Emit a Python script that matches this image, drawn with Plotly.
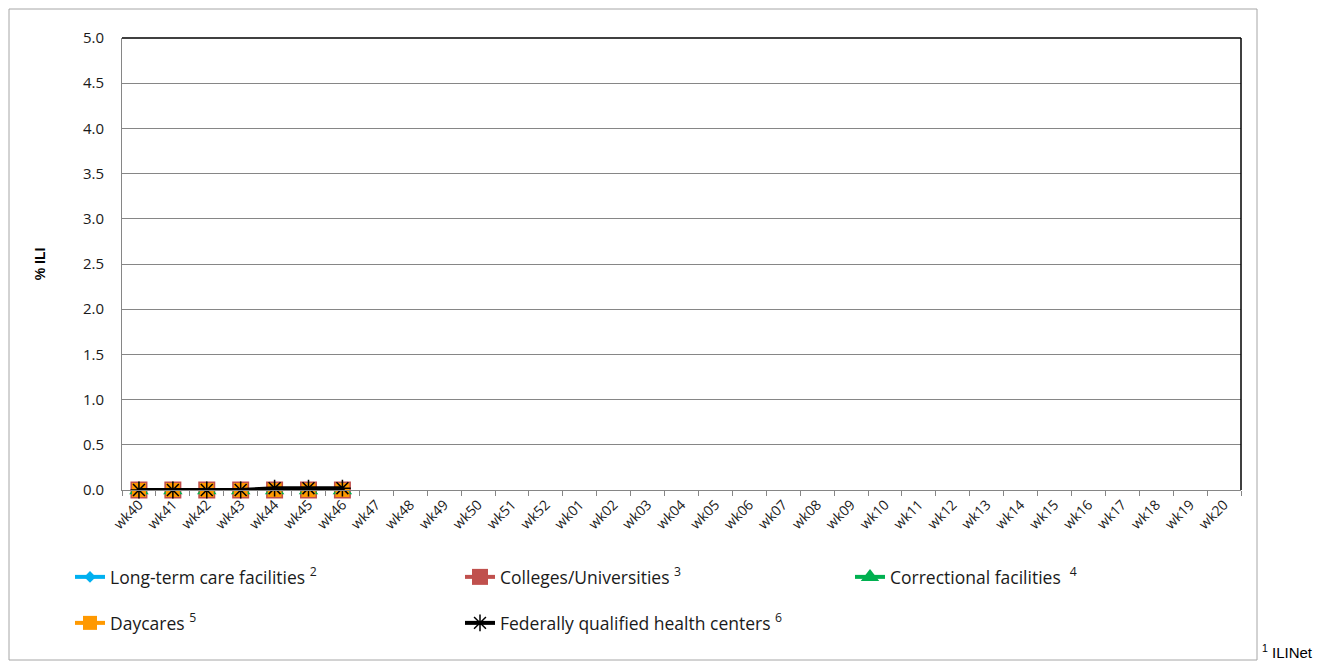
import plotly.graph_objects as go

weeks = ["wk40", "wk41", "wk42", "wk43", "wk44", "wk45", "wk46", "wk47", "wk48", "wk49",
         "wk50", "wk51", "wk52", "wk01", "wk02", "wk03", "wk04", "wk05", "wk06", "wk07",
         "wk08", "wk09", "wk10", "wk11", "wk12", "wk13", "wk14", "wk15", "wk16", "wk17",
         "wk18", "wk19", "wk20"]

ltc = [0.0, 0.0, 0.0, 0.0, 0.0, 0.0, 0.0]
colleges = [0.0, 0.0, 0.0, 0.0, 0.0, 0.0, 0.0]
correctional = [0.0, 0.0, 0.0, 0.0, 0.0, 0.0, 0.0]
daycares = [0.0, 0.0, 0.0, 0.0, 0.0, 0.0, 0.0]
fqhc = [0.0, 0.0, 0.0, 0.0, 0.02, 0.02, 0.02]

y_ticks = [0.0, 0.5, 1.0, 1.5, 2.0, 2.5, 3.0, 3.5, 4.0, 4.5, 5.0]

series = [
    ("Long-term care facilities <sup>2</sup>", ltc, "#00B0F0", "diamond", 9, None, "legend"),
    ("Colleges/Universities <sup>3</sup>", colleges, "#C0504D", "square", 17, None, "legend"),
    ("Correctional facilities  <sup>4</sup>", correctional, "#00B050", "triangle-up", 17, None, "legend"),
    ("Daycares <sup>5</sup>", daycares, "#FF9900", "square", 14, None, "legend2"),
    ("Federally qualified health centers <sup>6</sup>", fqhc, "#000000", "asterisk-open", 14, 1.5, "legend2"),
]

fig = go.Figure()
for name, vals, color, sym, size, mlw, lg in series:
    marker = dict(symbol=sym, size=size, color=color)
    if mlw:
        marker["line"] = dict(color=color, width=mlw)
    else:
        marker["line"] = dict(width=0)
    fig.add_trace(go.Scatter(
        x=weeks[:len(vals)], y=vals, name=name, mode="lines+markers",
        line=dict(color=color, width=4), marker=marker, legend=lg,
        cliponaxis=False,
    ))

# page is offset by the 8px body margin
W, H = 1321, 655
L, T, PW, PH = 114, 30, 1119, 452
R, B = W - L - PW, H - T - PH


def px(xp):
    return (xp - 8 - L) / PW


def py(yp):
    return (T + PH - (yp - 8)) / PH


legend_common = dict(
    orientation="h", xanchor="left", yanchor="middle",
    entrywidth=345, entrywidthmode="pixels",
    font=dict(family="Open Sans, sans-serif", size=17.5, color="#1a1a1a"),
    bgcolor="rgba(0,0,0,0)", traceorder="normal",
)

fig.update_layout(
    width=W, height=H,
    margin=dict(l=L, r=R, t=T, b=B, autoexpand=False),
    plot_bgcolor="white", paper_bgcolor="white",
    font=dict(family="Open Sans, Liberation Sans, sans-serif", color="#000000"),
    xaxis=dict(
        type="category", categoryorder="array", categoryarray=weeks,
        range=[-0.5, len(weeks) - 0.5],
        tickvals=weeks, ticktext=weeks, tickangle=-45,
        tickson="boundaries", ticks="outside", ticklen=5, tickcolor="#868686",
        showline=True, linecolor="#868686", linewidth=1,
        showgrid=False, zeroline=False,
        tickfont=dict(family="Open Sans, sans-serif", size=14, color="#1a1a1a"),
    ),
    yaxis=dict(
        range=[0, 5.0], tickvals=y_ticks, ticktext=[f"{v:.1f}" for v in y_ticks],
        showline=True, linecolor="#868686", linewidth=1,
        showgrid=True, gridcolor="#868686", gridwidth=1, zeroline=False,
        ticks="", ticklabelstandoff=14,
        tickfont=dict(family="Open Sans, sans-serif", size=15, color="#1a1a1a"),
        title=dict(text="<b>% ILI</b>", font=dict(family="Liberation Sans, Arial", size=14), standoff=34),
    ),
    showlegend=True,
    legend=dict(x=px(70), y=py(577), **legend_common),
    legend2=dict(x=px(70), y=py(623), **legend_common),
    shapes=[
        dict(type="rect", xref="paper", yref="paper",
             x0=px(9), x1=px(1257), y0=py(660), y1=py(9),
             line=dict(color="#A6A6A6", width=1), fillcolor="rgba(0,0,0,0)", layer="below"),
        dict(type="line", xref="paper", yref="paper", x0=0, x1=1, y0=1, y1=1,
             line=dict(color="#000000", width=1.5)),
        dict(type="line", xref="paper", yref="paper", x0=1, x1=1, y0=0, y1=1,
             line=dict(color="#000000", width=1.5)),
    ],
    annotations=[
        dict(text="<sup>1</sup> ILINet", xref="paper", yref="paper",
             x=px(1260), y=py(663), xanchor="left", yanchor="bottom",
             showarrow=False, font=dict(family="Liberation Sans, Arial", size=15)),
    ],
)

fig.write_html("out.html")
